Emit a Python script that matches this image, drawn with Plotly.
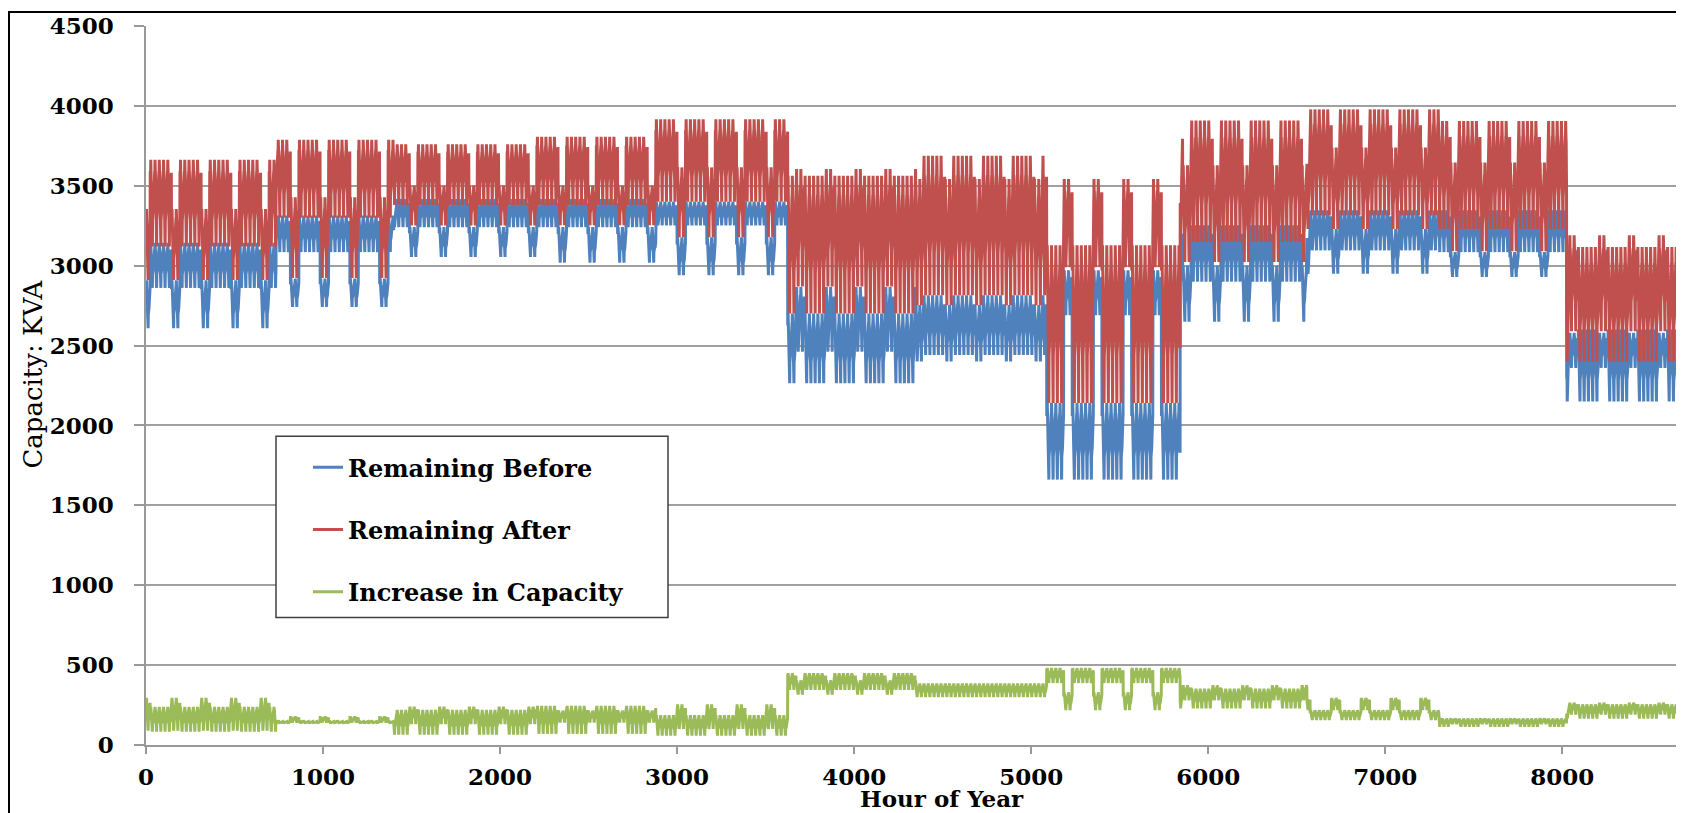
import numpy as np
import plotly.graph_objects as go

# ---------------- data ----------------
n_hours = 8760
# start hour of each operating period
period_start = [0, 735, 1400, 2208, 2876, 3625, 4354, 5088, 5842, 6558, 7305, 8025]

# Remaining Before (kVA): weekday / weekend daily max & min per period
before_wd_hi = [3143, 3314, 3417, 3417, 3400, 2700, 2815, 2140, 3253, 3347, 3347, 2600]
before_wd_lo = [2861, 3085, 3241, 3241, 3252, 2264, 2441, 1661, 2900, 3096, 3085, 2150]
before_we_hi = [2909, 2919, 3241, 3241, 3178, 2867, 2753, 2971, 3000, 3229, 3085, 2580]
before_we_lo = [2608, 2742, 3054, 3019, 2940, 2462, 2400, 2690, 2649, 2949, 2929, 2360]

# Remaining After (kVA)
after_wd_hi = [3663, 3788, 3760, 3806, 3916, 3563, 3688, 3127, 3908, 3978, 3906, 3116]
after_wd_lo = [3120, 3300, 3380, 3380, 3400, 2700, 2815, 2140, 3150, 3314, 3229, 2400]
after_we_hi = [3355, 3428, 3501, 3501, 3615, 3605, 3542, 3542, 3629, 3740, 3646, 3190]
after_we_lo = [2910, 2923, 3252, 3253, 3178, 2870, 2753, 2990, 3023, 3229, 3090, 2590]

# Increase in Capacity (kVA)
inc_wd_hi = [239, 150, 220, 245, 187, 450, 385, 482, 353, 218, 166, 255]
inc_wd_lo = [83, 135, 65, 70, 58, 345, 300, 388, 229, 156, 114, 165]
inc_we_hi = [295, 178, 240, 215, 254, 405, 385, 330, 374, 295, 166, 265]
inc_we_lo = [90, 140, 130, 140, 100, 315, 300, 218, 280, 218, 130, 190]

# relative position within the daily max/min for each hour of the day
day_shape = [0.85, 0.85, 0.85, 1.0, 0.85, 0.85, 0.8, 0.6, 0.4, 0.35, 0.32, 0.3,
             0.0, 0.3, 0.32, 0.35, 0.38, 0.42, 0.5, 0.6, 0.72, 0.8, 0.85, 0.85]

series_names = ["Remaining Before", "Remaining After", "Increase in Capacity"]
series_colors = ["#4F81BD", "#C0504D", "#9BBB59"]

x_ticks = [0, 1000, 2000, 3000, 4000, 5000, 6000, 7000, 8000]
y_ticks = [0, 500, 1000, 1500, 2000, 2500, 3000, 3500, 4000, 4500]

# ---------------- expand to hourly series ----------------
hours = np.arange(n_hours)
day = hours // 24
hod = hours % 24
weekend = (day % 7 == 0) | (day % 7 == 6)
per = np.searchsorted(period_start, hours, side="right") - 1
shape = np.array(day_shape)[hod]


def build(wd_hi, wd_lo, we_hi, we_lo):
    hi = np.where(weekend, np.array(we_hi)[per], np.array(wd_hi)[per])
    lo = np.where(weekend, np.array(we_lo)[per], np.array(wd_lo)[per])
    return lo + (hi - lo) * shape


before = build(before_wd_hi, before_wd_lo, before_we_hi, before_we_lo)
after = build(after_wd_hi, after_wd_lo, after_we_hi, after_we_lo)
inc = build(inc_wd_hi, inc_wd_lo, inc_we_hi, inc_we_lo)

fig = go.Figure()
for i, (name, ys) in enumerate(zip(series_names, [before, after, inc])):
    fig.add_trace(go.Scatter(
        x=hours, y=ys, mode="lines", name=name,
        line=dict(color=series_colors[i], width=3),
        legendgroup=name,
    ))

# page has an 8px body margin: figure pixel = page pixel - 8
OFF = 8
W, H = 1676, 813
L, R, T, B = 138, 4, 15, 76
pw, ph = W - L - R, H - T - B


def px(page_x):
    return (page_x - OFF - L) / pw


def py(page_y):
    return (H - B - (page_y - OFF)) / ph


tick_font = dict(family="DejaVu Serif", size=23, color="black", weight="bold")

fig.update_layout(
    width=W, height=H,
    margin=dict(l=L, r=R, t=T, b=B, pad=0),
    paper_bgcolor="white", plot_bgcolor="white",
    showlegend=True,
    legend=dict(
        x=px(308), y=py(444), xanchor="left", yanchor="top",
        bgcolor="rgba(0,0,0,0)", borderwidth=0,
        font=dict(family="DejaVu Serif", size=24, color="black", weight="bold"),
        traceorder="grouped", tracegroupgap=28,
    ),
    xaxis=dict(
        range=[0, 8665], tickvals=x_ticks, ticktext=[str(v) for v in x_ticks],
        showgrid=False, zeroline=False,
        showline=True, linecolor="#999999", linewidth=1.5,
        ticks="outside", ticklen=7, tickcolor="#999999", tickwidth=1.5,
        tickfont=tick_font, ticklabelstandoff=4,
    ),
    yaxis=dict(
        range=[0, 4500], tickvals=y_ticks, ticktext=[str(v) for v in y_ticks],
        showgrid=True, gridcolor="#a0a0a0", gridwidth=1.5, zeroline=False,
        showline=True, linecolor="#999999", linewidth=1.5,
        ticks="outside", ticklen=10, tickcolor="#999999", tickwidth=1.5,
        tickfont=tick_font, ticklabelstandoff=16,
    ),
    annotations=[
        dict(text="Hour of Year", xref="paper", yref="paper",
             x=px(942), y=py(799), xanchor="center", yanchor="middle",
             showarrow=False,
             font=dict(family="DejaVu Serif", size=23, color="black", weight="bold")),
        dict(text="Capacity: KVA", xref="paper", yref="paper",
             x=px(33), y=py(373), xanchor="center", yanchor="middle",
             showarrow=False, textangle=-90,
             font=dict(family="DejaVu Serif", size=26, color="black")),
    ],
    shapes=[
        # legend frame
        dict(type="rect", xref="paper", yref="paper",
             x0=px(276), x1=px(668), y0=py(617), y1=py(435),
             line=dict(color="#404040", width=1.5), fillcolor="white", layer="above"),
        # outer chart frame
        dict(type="path", xref="paper", yref="paper",
             path=f"M {px(9)} {py(840)} L {px(9)} {py(9)} L {px(1683)} {py(9)} L {px(1683)} {py(840)}",
             line=dict(color="black", width=2)),
    ],
)

fig.write_html("out.html")
